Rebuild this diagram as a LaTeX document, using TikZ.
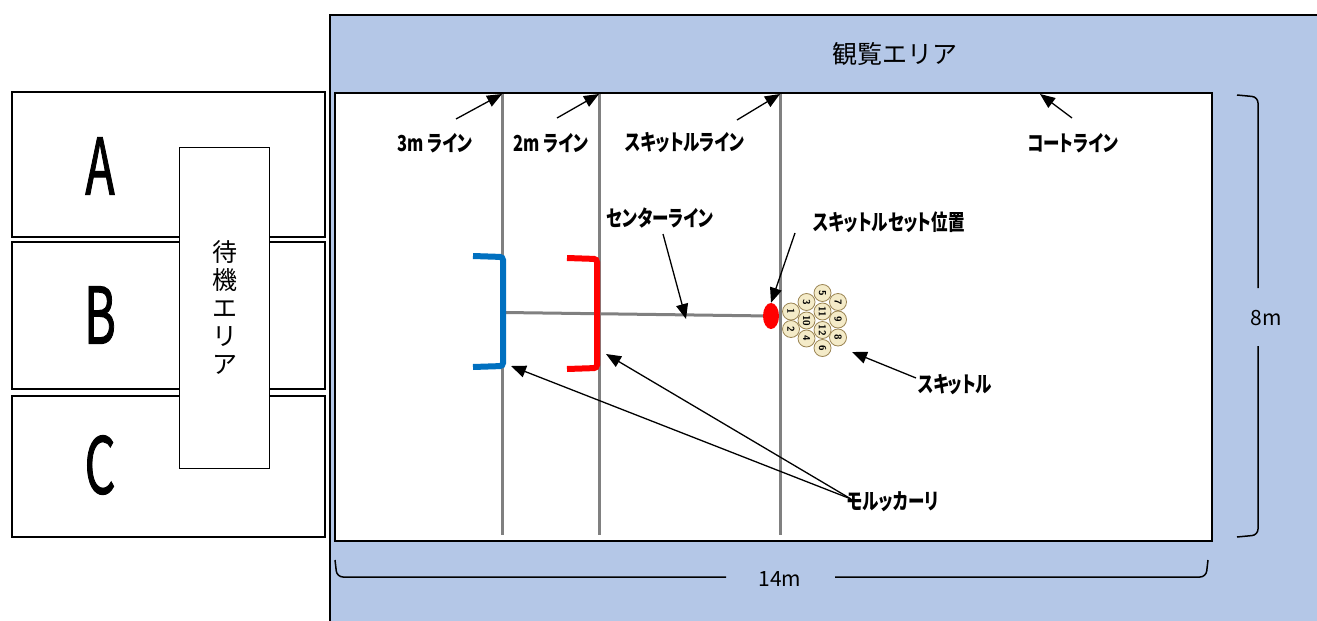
\documentclass[tikz,border=0pt]{standalone}
\usepackage{fontspec}
\newfontfamily\jp[RawFeature=+palt]{Noto Sans CJK JP}
\newfontfamily\jpn{Noto Sans CJK JP}
\newfontfamily\jpthick[FakeBold=1.6]{Noto Sans CJK JP}
\usetikzlibrary{arrows.meta,shapes.geometric}
\definecolor{areablue}{HTML}{B4C7E7}
\definecolor{courtgray}{HTML}{808080}
\definecolor{bracketblue}{HTML}{0070C0}
\definecolor{pinfill}{HTML}{F4EBC8}
\definecolor{pinedge}{HTML}{9C8655}
\begin{document}
\begin{tikzpicture}[x=1pt,y=-1pt,
  courtline/.style={draw=courtgray,line width=3pt},
  callout/.style={font=\jp\bfseries\fontsize{22}{22}\selectfont,inner sep=0pt,xscale=0.75},
  pointer/.style={line width=1.3pt,-{Triangle[length=15pt,width=12pt]}},
  teambox/.style={draw=black,line width=2.5pt},
  teamletter/.style={font=\jpthick\fontsize{78}{78}\selectfont,inner sep=0pt,xscale=0.62},
  pin/.style={circle,draw=pinedge,fill=pinfill,line width=0.8pt,minimum size=17pt,inner sep=0pt,
    font=\sffamily\bfseries\fontsize{10}{10}\selectfont,rotate=-90},
  measure/.style={font=\jpn\fontsize{21}{21}\selectfont,inner sep=0pt},
  dimline/.style={line width=1.5pt,rounded corners=6pt}
]
\useasboundingbox (0,0) rectangle (1317,621);

% spectator area
\fill[areablue] (330,15) rectangle (1317,621);
\draw[line width=2pt] (330,621) -- (330,15) -- (1317,15);
\node[font=\jpn\fontsize{25}{25}\selectfont] (view) at (895,54) {観覧エリア};

% court
\draw[fill=white,line width=2.5pt] (335,93) rectangle (1212,541);

% team areas
\draw[teambox] (12,92) rectangle (325,237);
\draw[teambox] (12,242) rectangle (325,389);
\draw[teambox] (12,396) rectangle (325,537);
\node[teamletter] (A) at (100,166) {A};
\node[teamletter] (B) at (100,315) {B};
\node[teamletter] (C) at (100,465) {C};
\draw[fill=white,line width=1pt] (179,147) rectangle (269,468);
\node[font=\jpn\fontsize{25}{28}\selectfont,align=center,inner sep=0pt] (wait) at (225,307) {待\\機\\エ\\リ\\ア};

% court lines
\coordinate (l3t) at (502,94);  \coordinate (l3b) at (502,535);
\coordinate (l2t) at (599,94);  \coordinate (l2b) at (599,535);
\coordinate (lst) at (780,94);  \coordinate (lsb) at (780,535);
\draw[courtline] (l3t) -- (l3b);
\draw[courtline] (l2t) -- (l2b);
\draw[courtline] (lst) -- (lsb);
\coordinate (cl0) at (505,312.5);
\coordinate (cl1) at (770,316);
\draw[courtline] (cl0) -- (cl1);

% throwing positions
\draw[bracketblue,line width=6pt,rounded corners=3pt] (473,256) -- (503,257) -- (503,366) -- (473,367);
\draw[red,line width=6pt,rounded corners=3pt] (567,258) -- (597,259) -- (597,368) -- (567,369);

% skittle set position
\node[ellipse,fill=red,minimum width=16pt,minimum height=26pt,inner sep=0pt] (setpos) at (771,316) {};

% skittles
\node[pin] (p1) at (791,311.5) {1};
\node[pin] (p2) at (791,329) {2};
\node[pin] (p3) at (806.5,302) {3};
\node[pin] (p10) at (806.5,320.5) {10};
\node[pin] (p4) at (806.5,338.5) {4};
\node[pin] (p5) at (822.5,293) {5};
\node[pin] (p11) at (822.5,311.5) {11};
\node[pin] (p12) at (822.5,330) {12};
\node[pin] (p6) at (822.5,348) {6};
\node[pin] (p7) at (838,302) {7};
\node[pin] (p9) at (838,319.5) {9};
\node[pin] (p8) at (838,337.5) {8};

% callouts
\node[callout] (t3) at (435,143) {3m ライン};
\node[callout] (t2) at (551,143) {2m ライン};
\node[callout] (ts) at (685,143) {スキットルライン};
\node[callout] (tc) at (1073,143) {コートライン};
\node[callout] (tcl) at (660,218) {センターライン};
\node[callout] (tset) at (889,222) {スキットルセット位置};
\node[callout] (tpin) at (955,385) {スキットル};
\node[callout] (tmol) at (893,502) {モルッカーリ};

\coordinate (a3) at (456,119);
\coordinate (a2) at (557,118);
\coordinate (as) at (737,120);
\coordinate (ac) at (1072,118);
\coordinate (ac1) at (1040,94);
\coordinate (acl0) at (663,234);
\coordinate (acl1) at (686,319);
\coordinate (aset) at (795,233);
\coordinate (apin) at (916,378);
\coordinate (apinh) at (852,352);
\coordinate (amol) at (851,499);
\coordinate (mblue) at (511,366);
\coordinate (mred) at (606,354);

\draw[pointer] (a3) -- (l3t);
\draw[pointer] (a2) -- (l2t);
\draw[pointer] (as) -- (lst);
\draw[pointer] (ac) -- (ac1);
\draw[pointer] (acl0) -- (acl1);
\draw[pointer] (aset) -- (setpos.north);
\draw[pointer] (apin) -- (apinh);
\draw[pointer] (amol) -- (mblue);
\draw[pointer] (amol) -- (mred);

% dimensions
\node[measure] (w) at (780,579) {14m};
\node[measure] (h) at (1266,318) {8m};
\draw[dimline] (335,560) -- (337,577) -- (726,577);
\draw[dimline] (835,577) -- (1206,577) -- (1208,560);
\draw[dimline] (1237,95) -- (1258,97) -- (1258,288);
\draw[dimline] (1258,346) -- (1258,535) -- (1237,537);
\end{tikzpicture}
\end{document}
